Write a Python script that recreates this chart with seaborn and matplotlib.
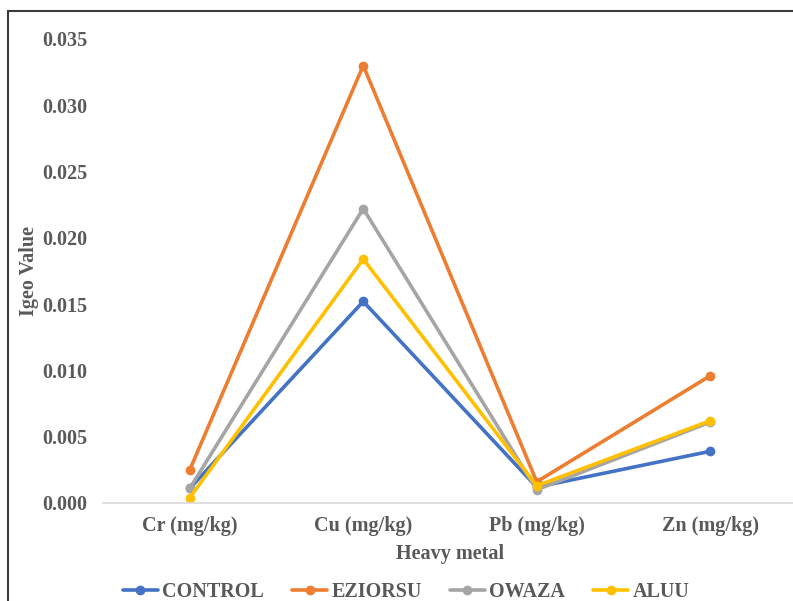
import pandas as pd
import matplotlib
matplotlib.use("Agg")
import matplotlib.pyplot as plt
from matplotlib.patches import Rectangle
import seaborn as sns

# ==========================================
# Datos
# ==========================================
metales = ["Cr (mg/kg)", "Cu (mg/kg)", "Pb (mg/kg)", "Zn (mg/kg)"]
sitios = ["CONTROL", "EZIORSU", "OWAZA", "ALUU"]
control = [0.0011, 0.0152, 0.0012, 0.0039]
eziorsu = [0.0025, 0.0330, 0.0016, 0.0096]
owaza = [0.0011, 0.0222, 0.0010, 0.0061]
aluu = [0.0004, 0.0184, 0.0013, 0.0062]
colores = ["#4472C4", "#ED7D31", "#A5A5A5", "#FFC000"]
yticks = [0.000, 0.005, 0.010, 0.015, 0.020, 0.025, 0.030, 0.035]

df = pd.DataFrame({
    "metal": metales * 4,
    "igeo": control + eziorsu + owaza + aluu,
    "sitio": [s for s in sitios for _ in metales],
})

sns.set_style("white")
plt.rcParams["font.family"] = ["Liberation Serif", "DejaVu Serif"]
gris = "#595959"

fig = plt.figure(figsize=(7.93, 6.01), dpi=100)
ax = fig.add_axes([103 / 793, 98 / 601, 694 / 793, 464 / 601])

sns.lineplot(data=df, x="metal", y="igeo", hue="sitio", hue_order=sitios,
             palette=dict(zip(sitios, colores)), marker="o", markersize=7,
             markeredgewidth=0, linewidth=2.6, sort=False, ax=ax)

ax.set_xlim(-0.5, 3.5)
ax.set_ylim(0, 0.035)
ax.set_yticks(yticks)
ax.set_yticklabels([f"{v:.3f}" for v in yticks])
ax.tick_params(axis="both", length=0, labelsize=14.5, colors=gris)
ax.tick_params(axis="y", pad=11)
ax.tick_params(axis="x", pad=9)
for lab in ax.get_xticklabels() + ax.get_yticklabels():
    lab.set_fontweight("bold")

for lado in ["top", "right", "left"]:
    ax.spines[lado].set_visible(False)
ax.spines["bottom"].set_color("#D9D9D9")
ax.spines["bottom"].set_linewidth(1.2)
ax.spines["bottom"].set_clip_on(False)

ax.set_xlabel("Heavy metal", fontsize=14.5, fontweight="bold", color=gris, labelpad=6)
ax.set_ylabel("Igeo Value", fontsize=14.5, fontweight="bold", color=gris)
ax.yaxis.set_label_coords(-64 / 694, 0.5)

ax.legend_.remove()
handles, labels = ax.get_legend_handles_labels()
fig.legend(handles, labels, loc="center", bbox_to_anchor=(406 / 793, 1 - 592 / 601),
           ncol=4, frameon=False, handlelength=1.75,
           columnspacing=1.4, handletextpad=0.2, labelcolor=gris,
           prop={"weight": "bold", "size": 14.5})

# marco del gráfico (recortado por el borde de la imagen)
fig.patches.append(Rectangle((8 / 793, -0.2), 1.2, 1.2 - 11 / 601, transform=fig.transFigure,
                             fill=False, edgecolor="#3a3a3a", linewidth=1.5))

fig.savefig("out.png", dpi=100)
plt.close(fig)
